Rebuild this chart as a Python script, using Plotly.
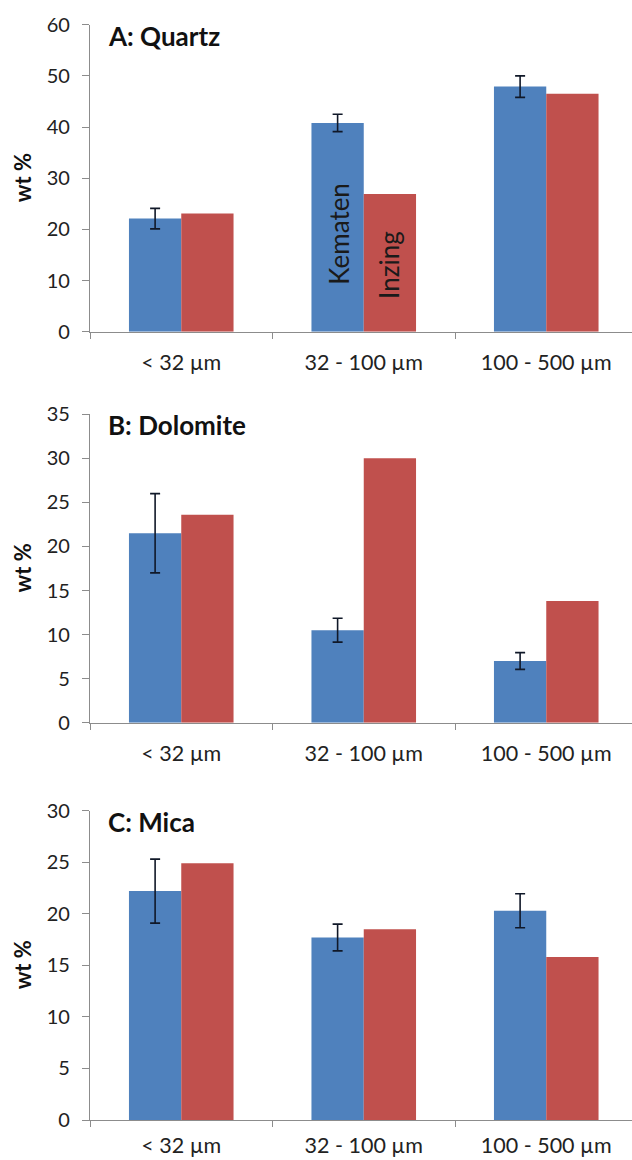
import plotly.graph_objects as go

categories = ["< 32 µm", "32 - 100 µm", "100 - 500 µm"]

quartz_kematen = [22.1, 40.8, 47.9]
quartz_kematen_err = [2.0, 1.7, 2.1]
quartz_inzing = [23.1, 26.9, 46.5]

dolomite_kematen = [21.5, 10.5, 7.0]
dolomite_kematen_err = [4.5, 1.35, 0.95]
dolomite_inzing = [23.6, 30.0, 13.8]

mica_kematen = [22.2, 17.7, 20.3]
mica_kematen_err = [3.1, 1.3, 1.65]
mica_inzing = [24.9, 18.5, 15.8]

panel_titles = ["A: Quartz", "B: Dolomite", "C: Mica"]
y_max = [60, 35, 30]
y_dtick = [10, 5, 5]

BLUE = "#4F81BD"
RED = "#C0504D"
FONT = "Lato"
W, H = 632, 1160

# pixel geometry of each panel (top, bottom)
panels_px = [(24.7, 331.7), (414.3, 722.7), (810.7, 1120.0)]
label_standoff = [11, 11, 6]
x_left_px = 90

fig = go.Figure()
data = [
    (quartz_kematen, quartz_kematen_err, quartz_inzing),
    (dolomite_kematen, dolomite_kematen_err, dolomite_inzing),
    (mica_kematen, mica_kematen_err, mica_inzing),
]

for i, (kem, kem_err, inz) in enumerate(data):
    sfx = "" if i == 0 else str(i + 1)
    xa, ya = "x" + sfx, "y" + sfx
    fig.add_trace(go.Bar(
        x=categories, y=kem, name="Kematen", marker_color=BLUE,
        marker_line_width=0, xaxis=xa, yaxis=ya, showlegend=False,
        error_y=dict(type="data", array=kem_err, color="#101828",
                     thickness=1.6, width=5),
    ))
    fig.add_trace(go.Bar(
        x=categories, y=inz, name="Inzing", marker_color=RED,
        marker_line_width=0, xaxis=xa, yaxis=ya, showlegend=False,
    ))

layout = dict(
    width=W, height=H,
    margin=dict(l=0, r=0, t=0, b=0),
    paper_bgcolor="white", plot_bgcolor="white",
    barmode="group", bargap=0.427, bargroupgap=0.0,
    font=dict(family=FONT, color="#222222"),
    annotations=[],
)

per_cat_px = 182.5
plot_w = W - x_left_px
x_hi = -0.5 + plot_w / per_cat_px

for i in range(3):
    sfx = "" if i == 0 else str(i + 1)
    top, bot = panels_px[i]
    layout["xaxis" + sfx] = dict(
        domain=[x_left_px / W, 1.0],
        anchor="y" + sfx,
        range=[-0.5, x_hi],
        type="category",
        showline=True, linecolor="#8c8c8c", linewidth=1.3,
        ticks="outside", tickson="boundaries", ticklen=6, tickcolor="#8c8c8c",
        tickfont=dict(size=21.5, family=FONT, color="#222222"),
        ticklabelstandoff=label_standoff[i],
        showgrid=False, zeroline=False, automargin=False, fixedrange=True,
    )
    layout["yaxis" + sfx] = dict(
        domain=[1 - bot / H, 1 - top / H],
        anchor="x" + sfx,
        range=[0, y_max[i]], dtick=y_dtick[i], tick0=0,
        showline=True, linecolor="#8c8c8c", linewidth=1.3,
        ticks="outside", ticklen=7, tickcolor="#8c8c8c",
        tickfont=dict(size=20, family=FONT, color="#222222"),
        ticklabelstandoff=8,
        showgrid=False, zeroline=False, automargin=False, fixedrange=True,
    )
    layout["annotations"].append(dict(
        text="<b>" + panel_titles[i] + "</b>", xref="paper", yref="paper",
        x=106 / W, y=1 - (top + 11) / H, xanchor="left", yanchor="middle",
        showarrow=False, font=dict(size=26, family=FONT, color="#111111"),
    ))
    layout["annotations"].append(dict(
        text="<b>wt %</b>", xref="paper", yref="paper",
        x=22 / W, y=1 - (top + bot) / 2 / H, xanchor="center", yanchor="middle",
        textangle=-90, showarrow=False,
        font=dict(size=22, family=FONT, color="#111111"),
    ))

# series labels inside the bars of panel A
layout["annotations"].append(dict(
    text="Kematen", xref="x", yref="y", x=categories[1], y=19.1, xshift=-25,
    textangle=-90, showarrow=False, font=dict(size=26, family=FONT, color="#1a1a1a"),
))
layout["annotations"].append(dict(
    text="Inzing", xref="x", yref="y", x=categories[1], y=13.0, xshift=25,
    textangle=-90, showarrow=False, font=dict(size=26, family=FONT, color="#1a1a1a"),
))

fig.update_layout(**layout)
fig.write_html("out.html", config={"displayModeBar": False},
               post_script="document.body.style.margin='0px';")
